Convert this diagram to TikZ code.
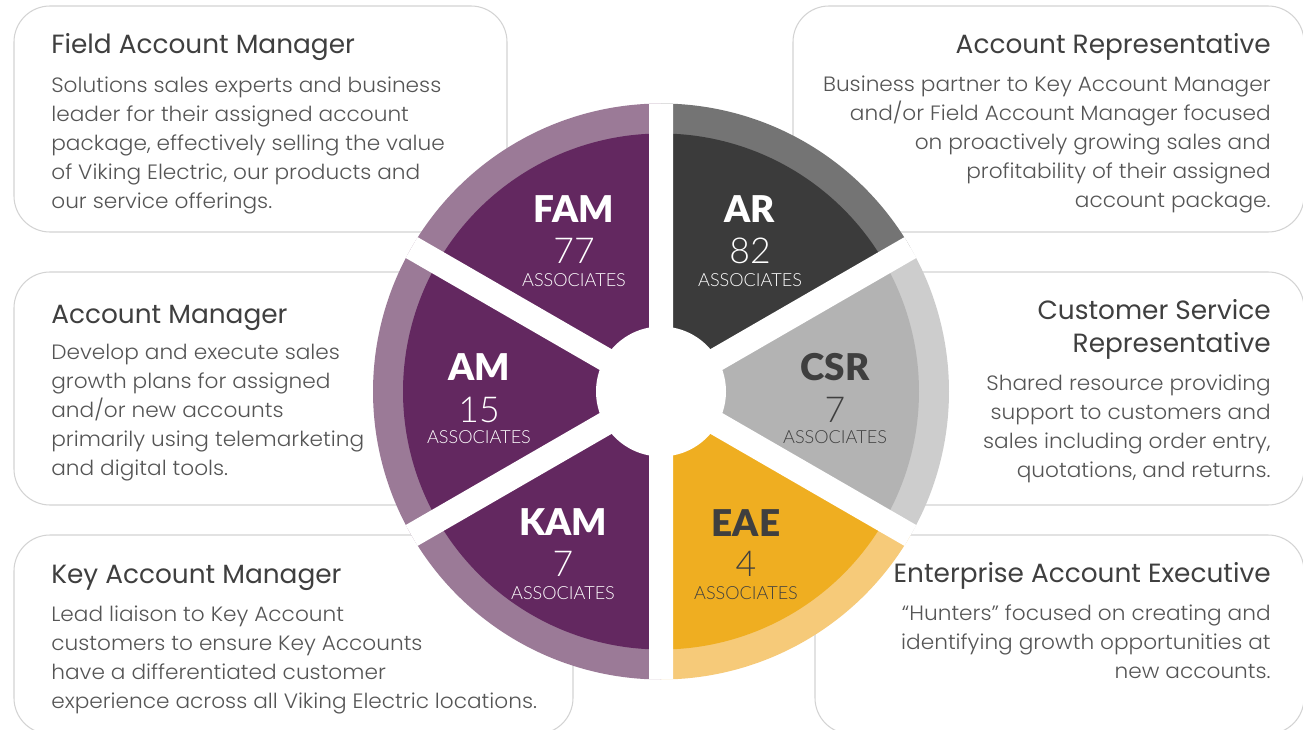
\documentclass[tikz,border=0pt]{standalone}
\usepackage{fontspec}
\setmainfont{Poppins}
\newfontfamily\bodyLight{Poppins Light}[FakeStretch=1.045]
\newfontfamily\latoLight{Lato Light}
\newfontfamily\latoBlack{Lato Black}
\usetikzlibrary{positioning}
\definecolor{vkPurple}{HTML}{632860}
\definecolor{vkPurpleRing}{HTML}{9B7A97}
\definecolor{vkCharcoal}{HTML}{3B3B3B}
\definecolor{vkCharcoalRing}{HTML}{747474}
\definecolor{vkSilver}{HTML}{B3B3B3}
\definecolor{vkSilverRing}{HTML}{CDCDCD}
\definecolor{vkGold}{HTML}{EFAE21}
\definecolor{vkGoldRing}{HTML}{F6CA79}
\definecolor{vkInk}{HTML}{3F3F3F}
\definecolor{vkBody}{HTML}{555555}
\definecolor{vkFrame}{HTML}{D3D3D3}
\tikzset{
    roleFrame/.style={
        draw=vkFrame,
        fill=white,
        line width=0.6pt,
        rounded corners=0.72cm
    },
    roleTitle/.style={
        font=\fontsize{15}{18.4}\selectfont,
        text=vkInk,
        inner sep=0pt
    },
    roleText/.style={
        font=\bodyLight\fontsize{11.8}{16.4}\selectfont,
        text=vkBody,
        inner sep=0pt
    },
    % Wedge labels
    pieAbbr/.style={font=\latoBlack\fontsize{21}{24}\selectfont, text=white, inner sep=0pt},
    pieCount/.style={font=\latoLight\fontsize{20.3}{24}\selectfont, text=white, inner sep=0pt},
    pieUnit/.style={font=\latoLight\fontsize{10.3}{12}\selectfont, text=white, inner sep=0pt},
    darkLabel/.style={text=vkInk},
    % Separators
    pieGap/.style={draw=white, line width=0.48cm}
}

\begin{document}
\begin{tikzpicture}[x=0.02cm, y=-0.02cm]
    \useasboundingbox (0,0) rectangle (1303,730);

    % role frames, behind the wheel
    \draw[roleFrame] (14,6) rectangle (507,232);
    \draw[roleFrame] (793,6) rectangle (1304,232);
    \draw[roleFrame] (14,272) rectangle (560,505);
    \draw[roleFrame] (760,272) rectangle (1304,505);
    \draw[roleFrame] (14,535) rectangle (573,734);
    \draw[roleFrame] (815,535) rectangle (1304,734);

    % the wheel
    \begin{scope}[shift={(661,391.5)}, x=0.02cm, y=0.02cm]
        \fill[vkPurpleRing] (0,0) -- (90:288) arc[start angle=90, end angle=150, radius=288] -- cycle;
        \fill[vkPurple] (0,0) -- (90:258) arc[start angle=90, end angle=150, radius=258] -- cycle;
        \fill[vkPurpleRing] (0,0) -- (150:288) arc[start angle=150, end angle=210, radius=288] -- cycle;
        \fill[vkPurple] (0,0) -- (150:258) arc[start angle=150, end angle=210, radius=258] -- cycle;
        \fill[vkPurpleRing] (0,0) -- (210:288) arc[start angle=210, end angle=270, radius=288] -- cycle;
        \fill[vkPurple] (0,0) -- (210:258) arc[start angle=210, end angle=270, radius=258] -- cycle;
        \fill[vkGoldRing] (0,0) -- (270:288) arc[start angle=270, end angle=330, radius=288] -- cycle;
        \fill[vkGold] (0,0) -- (270:258) arc[start angle=270, end angle=330, radius=258] -- cycle;
        \fill[vkSilverRing] (0,0) -- (-30:288) arc[start angle=-30, end angle=30, radius=288] -- cycle;
        \fill[vkSilver] (0,0) -- (-30:258) arc[start angle=-30, end angle=30, radius=258] -- cycle;
        \fill[vkCharcoalRing] (0,0) -- (30:288) arc[start angle=30, end angle=90, radius=288] -- cycle;
        \fill[vkCharcoal] (0,0) -- (30:258) arc[start angle=30, end angle=90, radius=258] -- cycle;
        \draw[pieGap] (90:288) -- (270:288) (30:288) -- (210:288) (150:288) -- (330:288);
        \fill[white] (0,0) circle[radius=65];
    \end{scope}

    % wedge labels
    \node[pieAbbr] (famAbbr) at (574,209) {FAM};
    \node[pieCount] (famCount) at (574,251) {77};
    \node[pieUnit] (famUnit) at (574,280) {ASSOCIATES};

    \node[pieAbbr] (arAbbr) at (750,209) {AR};
    \node[pieCount] (arCount) at (750,251) {82};
    \node[pieUnit] (arUnit) at (750,280) {ASSOCIATES};

    \node[pieAbbr] (amAbbr) at (479,367) {AM};
    \node[pieCount] (amCount) at (479,410) {15};
    \node[pieUnit] (amUnit) at (479,437) {ASSOCIATES};

    \node[pieAbbr, darkLabel] (csrAbbr) at (835,367) {CSR};
    \node[pieCount, darkLabel] (csrCount) at (835,410) {7};
    \node[pieUnit, darkLabel] (csrUnit) at (835,437) {ASSOCIATES};

    \node[pieAbbr] (kamAbbr) at (563,522) {KAM};
    \node[pieCount] (kamCount) at (563,564) {7};
    \node[pieUnit] (kamUnit) at (563,593) {ASSOCIATES};

    \node[pieAbbr, darkLabel] (eaeAbbr) at (746,523) {EAE};
    \node[pieCount, darkLabel] (eaeCount) at (746,564) {4};
    \node[pieUnit, darkLabel] (eaeUnit) at (746,593) {ASSOCIATES};

    % role descriptions (multi-line nodes sit on their last baseline)
    \node[roleTitle, anchor=base west] (famTitle) at (51,53) {Field Account Manager};
    \node[roleText, anchor=base west, align=left] (famText) at (51,208) {Solutions sales experts and business\\leader for their assigned account\\package, effectively selling the value\\of Viking Electric, our products and\\our service offerings.};

    \node[roleTitle, anchor=base east] (arTitle) at (1271,53) {Account Representative};
    \node[roleText, anchor=base east, align=right] (arText) at (1271,207) {Business partner to Key Account Manager\\and/or Field Account Manager focused\\on proactively growing sales and\\profitability of their assigned\\account package.};

    \node[roleTitle, anchor=base west] (amTitle) at (51,323) {Account Manager};
    \node[roleText, anchor=base west, align=left] (amText) at (51,475) {Develop and execute sales\\growth plans for assigned\\and/or new accounts\\primarily using telemarketing\\and digital tools.};

    \node[roleTitle, anchor=base east, align=right] (csrTitle) at (1271,352) {Customer Service\\Representative};
    \node[roleText, anchor=base east, align=right] (csrText) at (1271,477) {Shared resource providing\\support to customers and\\sales including order entry,\\quotations, and returns.};

    \node[roleTitle, anchor=base west] (kamTitle) at (51,583) {Key Account Manager};
    \node[roleText, anchor=base west, align=left] (kamText) at (51,708) {Lead liaison to Key Account\\customers to ensure Key Accounts\\have a differentiated customer\\experience across all Viking Electric locations.};

    \node[roleTitle, anchor=base east] (eaeTitle) at (1271,582) {Enterprise Account Executive};
    \node[roleText, anchor=base east, align=right] (eaeText) at (1271,678) {“Hunters” focused on creating and\\identifying growth opportunities at\\new accounts.};
\end{tikzpicture}
\end{document}
